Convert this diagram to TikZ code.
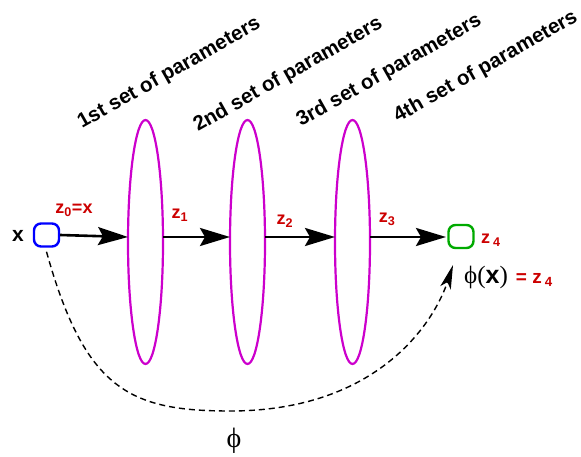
\documentclass[tikz,border=0pt]{standalone}
\usepackage{fontspec}
\setmainfont{Liberation Sans}
\newfontfamily\serifgr{Liberation Serif}
\usetikzlibrary{shapes.geometric,arrows.meta}
\definecolor{mag}{RGB}{204,0,204}
\definecolor{zred}{RGB}{204,0,0}
\definecolor{bbox}{RGB}{0,0,255}
\definecolor{gbox}{RGB}{0,170,0}
\begin{document}
\begin{tikzpicture}[x=1pt,y=-1pt,
  layer/.style={draw=mag,line width=2.2pt,ellipse,minimum width=35pt,minimum height=244pt,inner sep=0pt},
  sq/.style={draw,line width=2.4pt,rounded corners=7pt,minimum width=25pt,minimum height=23pt,inner sep=0pt},
  flow/.style={line width=2.6pt,-{Stealth[length=30pt,width=18pt,inset=5pt]}},
  zlab/.style={text=zred,font=\bfseries\fontsize{18}{20}\selectfont,inner sep=0pt},
  param/.style={font=\bfseries\fontsize{20.5}{22}\selectfont,rotate=29.5,anchor=base west,inner sep=0pt}]
\useasboundingbox (0,0) rectangle (581,457);
\node[sq,draw=bbox] (xin) at (46.5,235) {};
\node[font=\bfseries\fontsize{21}{24}\selectfont,inner sep=0pt] (xlab) at (18,236) {x};
\node[layer] (l1) at (145.5,242) {};
\node[layer] (l2) at (247.5,242) {};
\node[layer] (l3) at (352.5,242) {};
\node[sq,draw=gbox] (out) at (461,236.5) {};
\coordinate (a1) at (128,237);
\coordinate (b1) at (163,237);
\coordinate (a2) at (230,237);
\coordinate (b2) at (265,237);
\coordinate (a3) at (335,237);
\coordinate (b3) at (370,237);
\coordinate (a4) at (446,237);
\draw[flow] (xin.east) -- (a1);
\draw[flow] (b1) -- (a2);
\draw[flow] (b2) -- (a3);
\draw[flow] (b3) -- (a4);
\node[zlab] (z0) at (74,210) {z$_{\mathbf 0}$=x};
\node[zlab] (z1) at (180,215) {z$_{\mathbf 1}$};
\node[zlab] (z2) at (285,221) {z$_{\mathbf 2}$};
\node[zlab] (z3) at (387,219) {z$_{\mathbf 3}$};
\node[zlab,anchor=west] (z4) at (481,240) {z\,$_{\mathbf 4}$};
\node[anchor=west,inner sep=0pt] (phix) at (464,277) {\fontsize{25}{27}\selectfont{\serifgr ϕ(}\textbf{x}{\serifgr )}\hspace{8pt}\textcolor{zred}{\bfseries\fontsize{19}{21}\selectfont= z\,$_{\mathbf 4}$}};
\node[param] (p1) at (82,129) {1st set of parameters};
\node[param] (p2) at (198,132) {2nd set of parameters};
\node[param] (p3) at (301,127) {3rd set of parameters};
\node[param] (p4) at (398,123) {4th set of parameters};
\coordinate (dend) at (453,265);
\coordinate (dlow) at (230,411);
\draw[dash pattern=on 6pt off 4pt,line width=1.4pt,-{Stealth[length=24pt,width=11pt,inset=6pt]}] ([yshift=-4pt]xin.south) .. controls (85,390) and (130,411) .. (dlow) .. controls (380,411) and (435,320) .. (dend);
\node[font=\serifgr\fontsize{28}{30}\selectfont,inner sep=0pt] (phi) at (234,441) {ϕ};
\end{tikzpicture}
\end{document}
